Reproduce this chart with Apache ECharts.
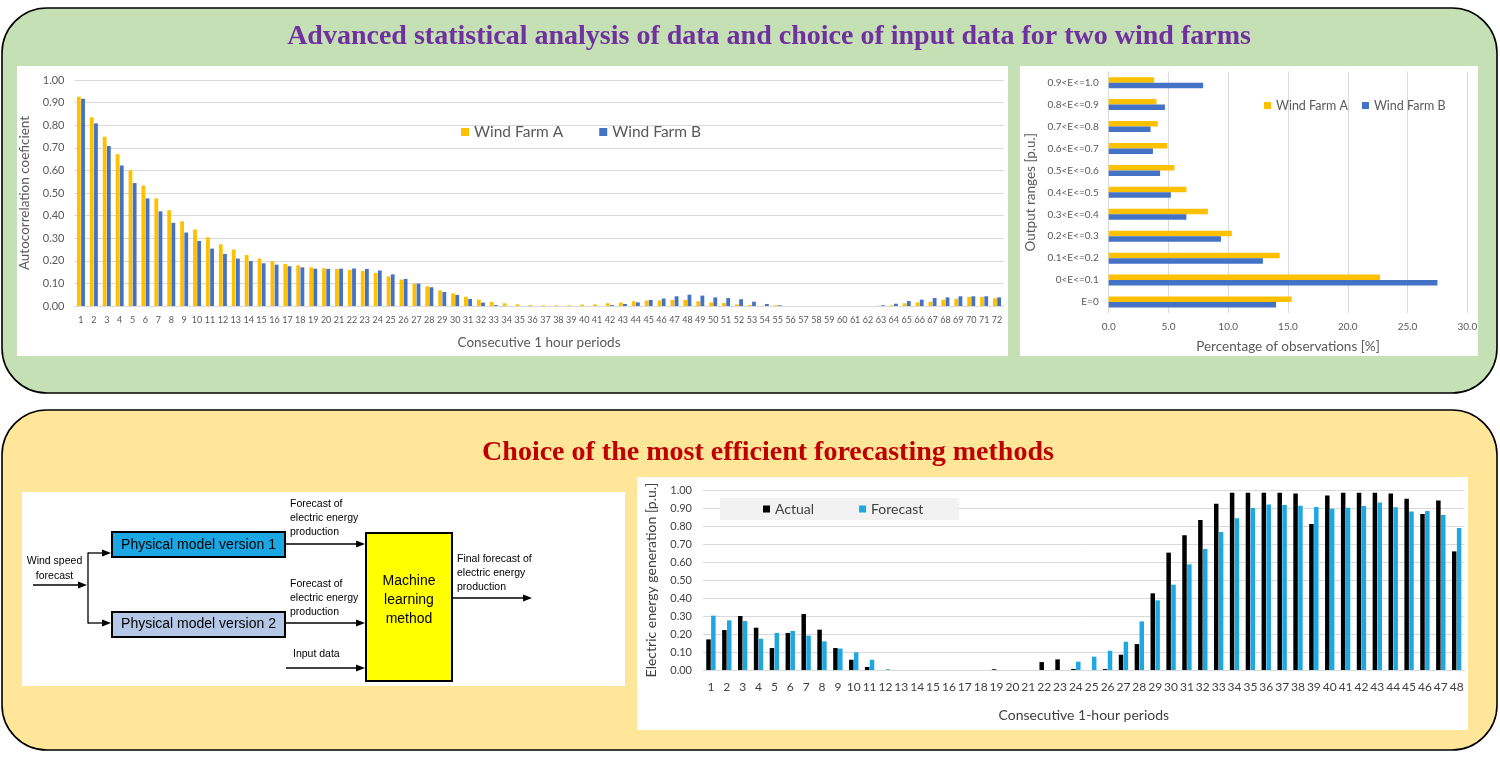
<!DOCTYPE html>
<html>
<head>
<meta charset="utf-8">
<title>Wind farm analysis and forecasting</title>
<script src="https://cdn.jsdelivr.net/npm/echarts@6.0.0/dist/echarts.min.js"></script>
<style>
  html, body { margin: 0; padding: 0; background: #ffffff; }
  #main { width: 1500px; height: 757px; }
</style>
</head>
<body>
<div id="main"></div>
<script>
// ---------------- DATA ----------------
const lagLabels = ['1','2','3','4','5','6','7','8','9','10','11','12','13','14','15','16','17','18','19','20','21','22','23','24','25','26','27','28','29','30','31','32','33','34','35','36','37','38','39','40','41','42','43','44','45','46','47','48','49','50','51','52','53','54','55','56','57','58','59','60','61','62','63','64','65','66','67','68','69','70','71','72'];
const windFarmA = [0.926,0.835,0.749,0.672,0.601,0.533,0.476,0.424,0.375,0.338,
                   0.304,0.273,0.250,0.226,0.210,0.198,0.186,0.180,0.171,0.167,
                   0.164,0.160,0.155,0.146,0.131,0.117,0.099,0.087,0.069,0.056,
                   0.041,0.028,0.018,0.012,0.007,0.004,0.003,0.003,0.003,0.006,
                   0.007,0.012,0.015,0.021,0.024,0.024,0.027,0.027,0.021,0.016,
                   0.013,0.007,0.004,0.001,0.003,0,0,0,0,0,
                   0,0,0.001,0.003,0.012,0.016,0.019,0.028,0.032,0.040,
                   0.040,0.034];
const windFarmB = [0.917,0.808,0.708,0.622,0.544,0.476,0.419,0.368,0.325,0.288,
                   0.254,0.230,0.210,0.199,0.189,0.183,0.176,0.171,0.165,0.164,
                   0.165,0.166,0.164,0.157,0.140,0.120,0.099,0.083,0.062,0.049,
                   0.031,0.015,0.004,0,0,0,0,0,0,0,
                   0,0.004,0.009,0.016,0.027,0.033,0.043,0.050,0.046,0.038,
                   0.035,0.030,0.019,0.009,0.003,0,0,0,0,0,
                   0,0,0.003,0.010,0.022,0.028,0.035,0.038,0.043,0.043,
                   0.043,0.038];

const outputRanges = ['E=0','0<E<=0.1','0.1<E<=0.2','0.2<E<=0.3','0.3<E<=0.4','0.4<E<=0.5','0.5<E<=0.6','0.6<E<=0.7','0.7<E<=0.8','0.8<E<=0.9','0.9<E<=1.0'];
const shareA = [15.3,22.7,14.3,10.3,8.3,6.5,5.5,4.9,4.1,4.0,3.8];
const shareB = [14.0,27.5,12.9,9.4,6.5,5.2,4.3,3.7,3.5,4.7,7.9];

const periodLabels = ['1','2','3','4','5','6','7','8','9','10','11','12','13','14','15','16','17','18','19','20','21','22','23','24','25','26','27','28','29','30','31','32','33','34','35','36','37','38','39','40','41','42','43','44','45','46','47','48'];
const actual = [0.170,0.222,0.300,0.235,0.122,0.206,0.311,0.224,0.122,0.057,
                0.017,0,0,0,0,0,0,0,0.004,0,
                0,0.044,0.059,0.006,0,0.005,0.085,0.144,0.426,0.652,
                0.748,0.833,0.924,0.985,0.985,0.985,0.985,0.981,0.811,0.970,
                0.985,0.985,0.985,0.981,0.952,0.867,0.941,0.659];
const forecast = [0.302,0.276,0.272,0.174,0.206,0.217,0.191,0.159,0.119,0.098,
                  0.057,0.004,0,0,0,0,0,0,0,0,
                  0,0,0,0.046,0.074,0.107,0.157,0.270,0.387,0.474,
                  0.587,0.672,0.767,0.843,0.900,0.920,0.917,0.913,0.906,0.896,
                  0.902,0.911,0.931,0.904,0.880,0.883,0.861,0.789];

const titleTop = 'Advanced statistical analysis of data and choice of input data for two wind farms';
const titleBottom = 'Choice of the most efficient forecasting methods';

// ---------------- STYLE HELPERS ----------------
const FONT = 'Lato';
const GRID_COLOR = '#d9d9d9';
const TXT = '#595959';

function text(x, y, str, opts) {
  opts = opts || {};
  return {
    type: 'text', z: 5,
    style: {
      x: x, y: y, text: str,
      font: opts.font || '10.5px "Liberation Sans"',
      fill: opts.fill || '#000',
      textAlign: opts.align || 'left',
      textVerticalAlign: 'middle'
    }
  };
}
function rect(x, y, w, h, fill, stroke, lw, r, z) {
  return {
    type: 'rect', z: z,
    shape: { x: x, y: y, width: w, height: h, r: r || 0 },
    style: { fill: fill, stroke: stroke || null, lineWidth: lw || 0 }
  };
}
function line(x1, y1, x2, y2) {
  return { type: 'line', z: 5, shape: { x1: x1, y1: y1, x2: x2, y2: y2 },
           style: { stroke: '#000', lineWidth: 1.3 } };
}
function arrow(x1, y1, x2, y2) {
  return [
    line(x1, y1, x2 - 6, y2),
    { type: 'polygon', z: 5, shape: { points: [[x2, y2], [x2 - 9, y2 - 3.5], [x2 - 9, y2 + 3.5]] },
      style: { fill: '#000' } }
  ];
}

const graphics = [].concat(
  [
    rect(2, 8, 1495, 385, '#c5e0b4', '#000', 1.6, 45, -10),
    rect(2, 410, 1495, 340, '#ffe699', '#000', 1.6, 45, -10),
    rect(17, 66, 991, 290, '#ffffff', null, 0, 0, -9),
    rect(1020, 66, 458, 290, '#ffffff', null, 0, 0, -9),
    rect(22, 492, 603, 194, '#ffffff', null, 0, 0, -9),
    rect(637, 477, 831, 253, '#ffffff', null, 0, 0, -9),
    text(769, 37, titleTop, { font: 'bold 28px "Liberation Serif"', fill: '#7030a0', align: 'center' }),
    text(768, 453, titleBottom, { font: 'bold 28px "Liberation Serif"', fill: '#c00000', align: 'center' }),
    rect(112, 532, 173, 25, '#1aa7e4', '#000', 2, 0, 4),
    rect(112, 612, 173, 25, '#b4c7e7', '#000', 2, 0, 4),
    rect(366, 533, 86, 148, '#ffff00', '#000', 2, 0, 4),
    text(198.5, 545, 'Physical model version 1', { font: '14px "Liberation Sans"', align: 'center' }),
    text(198.5, 624.5, 'Physical model version 2', { font: '14px "Liberation Sans"', align: 'center' }),
    text(409, 581, 'Machine', { font: '14px "Liberation Sans"', align: 'center' }),
    text(409, 600, 'learning', { font: '14px "Liberation Sans"', align: 'center' }),
    text(409, 619, 'method', { font: '14px "Liberation Sans"', align: 'center' }),
    text(54.5, 561, 'Wind speed', { align: 'center' }),
    text(54.5, 576, 'forecast', { align: 'center' }),
    text(290, 504, 'Forecast of'),
    text(290, 518, 'electric energy'),
    text(290, 532, 'production'),
    text(290, 584, 'Forecast of'),
    text(290, 598, 'electric energy'),
    text(290, 612, 'production'),
    text(293, 654, 'Input data'),
    text(457, 559, 'Final forecast of'),
    text(457, 573, 'electric energy'),
    text(457, 587, 'production'),
    line(88, 552.5, 88, 623.5)
  ],
  arrow(33, 585, 87, 585),
  arrow(88, 553, 111, 553),
  arrow(88, 623, 111, 623),
  arrow(285, 544, 365, 544),
  arrow(285, 623, 365, 623),
  arrow(286, 668, 365, 668),
  arrow(453, 598, 532, 598)
);

// ---------------- CHART ----------------
const chart = echarts.init(document.getElementById('main'));

const fix2 = v => v.toFixed(2);
const fix1 = v => v.toFixed(1);

const option = {
  animation: false,
  backgroundColor: '#ffffff',
  textStyle: { fontFamily: FONT },
  graphic: { elements: graphics },
  legend: [
    {
      data: ['Wind Farm A', 'Wind Farm B'], left: 461, top: 124, padding: 0,
      icon: 'rect', itemWidth: 8, itemHeight: 8, itemGap: 36,
      textStyle: { fontFamily: FONT, fontSize: 15.5, color: TXT }
    },
    {
      data: ['Wind Farm A', 'Wind Farm B'], left: 1264, top: 99, padding: 0,
      icon: 'rect', itemWidth: 7, itemHeight: 7, itemGap: 14,
      textStyle: { fontFamily: FONT, fontSize: 12.5, color: TXT }
    },
    {
      data: ['Actual', 'Forecast'], left: 720, top: 498, padding: [4, 36, 4, 43],
      backgroundColor: '#f2f2f2',
      icon: 'rect', itemWidth: 7, itemHeight: 7, itemGap: 45,
      textStyle: { fontFamily: FONT, fontSize: 14, color: '#404040' }
    }
  ],
  grid: [
    { left: 74.5, top: 80, width: 929, height: 226, containLabel: false, outerBoundsMode: 'none' },
    { left: 1108.7, top: 71.7, width: 358.6, height: 241.3, containLabel: false, outerBoundsMode: 'none' },
    { left: 703, top: 490, width: 761.6, height: 180, containLabel: false, outerBoundsMode: 'none' }
  ],
  xAxis: [
    {
      gridIndex: 0, type: 'category', data: lagLabels,
      axisTick: { show: false },
      axisLine: { show: true, lineStyle: { color: GRID_COLOR } },
      axisLabel: { interval: 0, fontSize: 9, color: TXT, margin: 10, fontFamily: FONT },
      name: 'Consecutive 1 hour periods', nameLocation: 'middle', nameGap: 30,
      nameTextStyle: { fontSize: 13.5, color: TXT, fontFamily: FONT }
    },
    {
      gridIndex: 1, type: 'value', min: 0, max: 30, interval: 5,
      axisTick: { show: false }, axisLine: { show: false },
      splitLine: { show: true, lineStyle: { color: GRID_COLOR } },
      axisLabel: { formatter: fix1, fontSize: 10, color: TXT, margin: 9, fontFamily: FONT },
      name: 'Percentage of observations [%]', nameLocation: 'middle', nameGap: 27,
      nameTextStyle: { fontSize: 13.5, color: TXT, fontFamily: FONT }
    },
    {
      gridIndex: 2, type: 'category', data: periodLabels,
      axisTick: { show: false },
      axisLine: { show: true, lineStyle: { color: GRID_COLOR } },
      axisLabel: { interval: 0, fontSize: 12, color: '#404040', margin: 11, fontFamily: FONT },
      name: 'Consecutive 1-hour periods', nameLocation: 'middle', nameGap: 38,
      nameTextStyle: { fontSize: 14, color: '#404040', fontFamily: FONT }
    }
  ],
  yAxis: [
    {
      gridIndex: 0, type: 'value', min: 0, max: 1, interval: 0.1,
      axisTick: { show: false }, axisLine: { show: false },
      splitLine: { show: true, lineStyle: { color: GRID_COLOR } },
      axisLabel: { formatter: fix2, fontSize: 11, color: TXT, margin: 10, fontFamily: FONT },
      name: 'Autocorrelation coeficient', nameLocation: 'middle', nameGap: 37, nameRotate: 90,
      nameTextStyle: { fontSize: 13.5, color: TXT, fontFamily: FONT }
    },
    {
      gridIndex: 1, type: 'category', data: outputRanges,
      axisTick: { show: false },
      axisLine: { show: true, lineStyle: { color: GRID_COLOR } },
      axisLabel: { interval: 0, fontSize: 10, color: TXT, margin: 10, fontFamily: FONT },
      name: 'Output ranges [p.u.]', nameLocation: 'middle', nameGap: 71, nameRotate: 90,
      nameTextStyle: { fontSize: 13.5, color: TXT, fontFamily: FONT }
    },
    {
      gridIndex: 2, type: 'value', min: 0, max: 1, interval: 0.1,
      axisTick: { show: false }, axisLine: { show: false },
      splitLine: { show: true, lineStyle: { color: GRID_COLOR } },
      axisLabel: { formatter: fix2, fontSize: 11, color: '#404040', margin: 11, fontFamily: FONT },
      name: 'Electric energy generation [p.u.]', nameLocation: 'middle', nameGap: 45, nameRotate: 90,
      nameTextStyle: { fontSize: 14, color: '#404040', fontFamily: FONT }
    }
  ],
  series: [
    { type: 'bar', name: 'Wind Farm A', xAxisIndex: 0, yAxisIndex: 0, data: windFarmA,
      barWidth: 3.8, barGap: '10%', itemStyle: { color: '#ffc000' } },
    { type: 'bar', name: 'Wind Farm B', xAxisIndex: 0, yAxisIndex: 0, data: windFarmB,
      barWidth: 3.8, barGap: '10%', itemStyle: { color: '#4472c4' } },
    { type: 'bar', name: 'Wind Farm A', xAxisIndex: 1, yAxisIndex: 1, data: shareA,
      barWidth: 5.5, barGap: '0%', itemStyle: { color: '#ffc000' } },
    { type: 'bar', name: 'Wind Farm B', xAxisIndex: 1, yAxisIndex: 1, data: shareB,
      barWidth: 5.5, barGap: '0%', itemStyle: { color: '#4472c4' } },
    { type: 'bar', name: 'Actual', xAxisIndex: 2, yAxisIndex: 2, data: actual,
      barWidth: 4.5, barGap: '8%', itemStyle: { color: '#000000' } },
    { type: 'bar', name: 'Forecast', xAxisIndex: 2, yAxisIndex: 2, data: forecast,
      barWidth: 4.5, barGap: '8%', itemStyle: { color: '#1ea7e1' } }
  ]
};

chart.setOption(option);
</script>
</body>
</html>
